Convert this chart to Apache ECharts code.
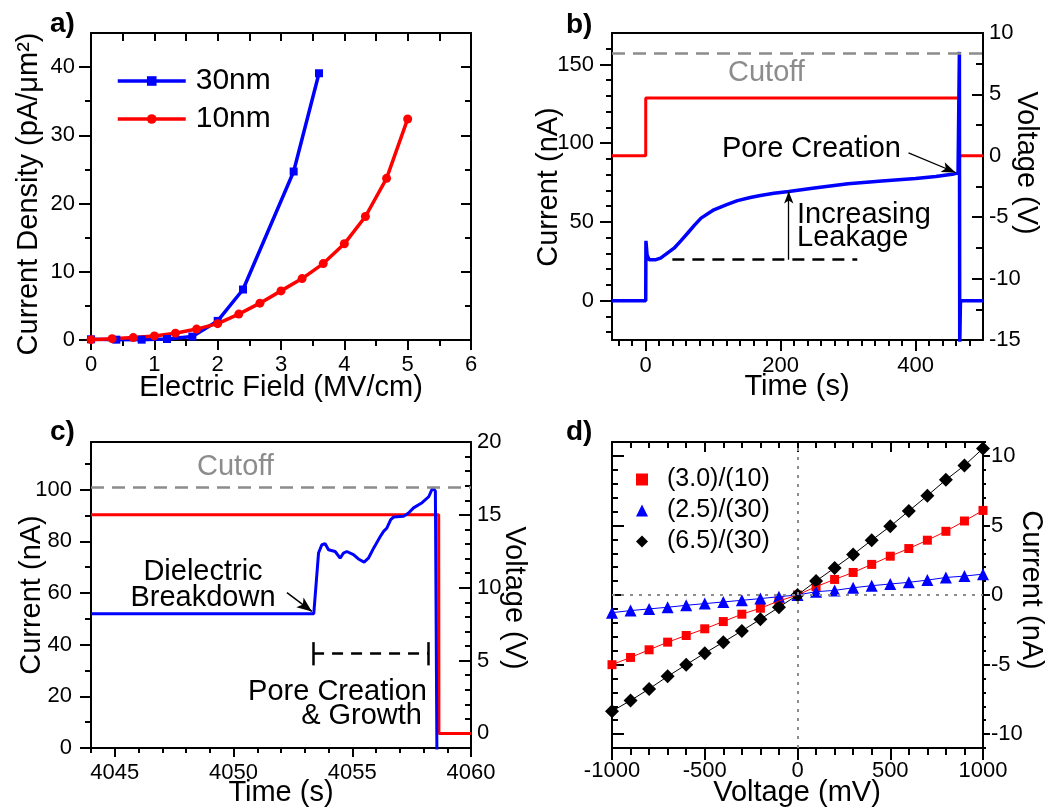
<!DOCTYPE html>
<html><head><meta charset="utf-8">
<script src="https://cdn.jsdelivr.net/npm/echarts@6/dist/echarts.min.js"></script>
<style>html,body{margin:0;padding:0;background:#fff}#c{width:1056px;height:809px}</style>
</head><body><div id="c"></div><script>
// ---------- Panel a: current density vs field ----------
const aField30 = [0, 0.4, 0.8, 1.2, 1.6, 2.0, 2.4, 3.2, 3.6];
const aDens30  = [0.1, 0.05, 0.05, 0.15, 0.5, 2.8, 7.4, 24.7, 39.1];
const aField10 = [0, 0.333, 0.667, 1.0, 1.333, 1.667, 2.0, 2.333, 2.667, 3.0, 3.333, 3.667, 4.0, 4.333, 4.667, 5.0];
const aDens10  = [0.05, 0.2, 0.35, 0.6, 1.0, 1.6, 2.4, 3.8, 5.4, 7.2, 9.0, 11.2, 14.1, 18.1, 23.7, 32.4];
const aXTicks = [0, 1, 2, 3, 4, 5, 6];
const aYTicks = [0, 10, 20, 30, 40];

// ---------- Panel b: current / voltage vs time ----------
const bTime    = [-50, 0, 0.3, 2, 5, 15, 22, 30, 42, 52, 62, 72, 82, 101, 120, 136, 155, 170, 190, 212, 250, 300, 350, 400, 430, 457, 463, 465, 465.5, 466.5, 467, 500];
const bCurrent = [0, 0, 38, 29, 26, 26, 27, 29.5, 33.3, 38, 42.8, 47.8, 52.4, 57.7, 61, 63.5, 65.5, 66.8, 68.2, 69.3, 71.5, 74.3, 76, 77.6, 78.8, 80.5, 81, 158, -30, -2, 0, 0];
const bVoltTime = [-50, 0, 0.01, 464.7, 464.71, 500];
const bVoltage  = [0, 0, 4.7, 4.7, 0, 0];
const bCutoff = 157;
const bXTicks = [0, 200, 400];
const bYTicks = [0, 50, 100, 150];
const bVTicks = [-15, -10, -5, 0, 5, 10];

// ---------- Panel c: breakdown trace ----------
const cTime    = [4044, 4053.38, 4053.58, 4053.72, 4053.86, 4054.0, 4054.28, 4054.49, 4054.63, 4054.77, 4055.05, 4055.26, 4055.5, 4055.68, 4055.9, 4056.18, 4056.32, 4056.46, 4056.62, 4056.75, 4057.16, 4057.37, 4057.58, 4057.94, 4058.22, 4058.39, 4058.5, 4058.57, 4058.6, 4060];
const cCurrent = [52, 52, 75.5, 78.7, 79.1, 76.8, 76.1, 73.5, 75.5, 76.1, 74.9, 73.2, 72.0, 73.5, 77.4, 81.9, 83.9, 85.2, 88.4, 89.5, 89.7, 91.0, 93.0, 95.0, 97.3, 100.8, 99.5, -10, -10, -10];
const cVoltTime = [4044, 4058.64, 4058.65, 4060];
const cVoltage  = [15, 15, 0, 0];
const cCutoff = 101;
const cXTicks = [4045, 4050, 4055, 4060];
const cYTicks = [0, 20, 40, 60, 80, 100];
const cVTicks = [0, 5, 10, 15, 20];

// ---------- Panel d: I-V curves ----------
const dVolt  = [-1000, -900, -800, -700, -600, -500, -400, -300, -200, -100, 0, 100, 200, 300, 400, 500, 600, 700, 800, 900, 1000];
const dRed   = [-5.01, -4.49, -3.94, -3.39, -2.91, -2.43, -1.91, -1.38, -0.95, -0.43, 0, 0.6, 1.12, 1.62, 2.2, 2.79, 3.34, 3.94, 4.58, 5.32, 6.08];
const dBlue  = [-1.27, -1.12, -1.0, -0.88, -0.74, -0.62, -0.5, -0.38, -0.26, -0.12, 0, 0.24, 0.33, 0.52, 0.67, 0.79, 0.91, 1.07, 1.26, 1.36, 1.5];
const dBlack = [-8.35, -7.59, -6.75, -5.85, -5.01, -4.18, -3.39, -2.58, -1.74, -0.88, 0, 1.0, 1.95, 2.91, 3.94, 4.94, 6.04, 7.14, 8.28, 9.31, 10.54];
const dNames = ['(3.0)/(10)', '(2.5)/(30)', '(6.5)/(30)'];
const dXTicks = [-1000, -500, 0, 500, 1000];
const dYTicks = [-10, -5, 0, 5, 10];

// ---------- helpers ----------
const FONT = '"Liberation Sans", Arial, Helvetica, sans-serif';
function zip(xs, ys) { return xs.map((x, i) => [x, ys[i]]); }
function steps(a, b, s, exclude) {
  const out = [];
  for (let v = a; v <= b + 1e-9; v += s) {
    const r = Math.round(v * 1000) / 1000;
    if (!exclude || !exclude.some(e => Math.abs(e - r) < 1e-6)) out.push(r);
  }
  return out;
}
const xAxes = [], yAxes = [];
function addAxis(list, o) {
  list.push({
    type: 'value', gridIndex: o.grid, min: o.min, max: o.max, position: o.pos,
    axisLine: { show: o.line !== false, onZero: false, lineStyle: { color: '#000', width: 2 } },
    axisTick: o.ticks ? { show: true, inside: !!o.inside, length: o.len, customValues: o.ticks,
      lineStyle: { color: '#000', width: 2 } } : { show: false },
    axisLabel: o.labels ? { show: true, customValues: o.labels, fontSize: 22, fontFamily: FONT,
      color: '#000', margin: o.margin, formatter: v => String(v) } : { show: false },
    splitLine: { show: false }, minorTick: { show: false }, minorSplitLine: { show: false },
    silent: true
  });
  return list.length - 1;
}

const grids = [
  { left: 91, top: 33, width: 380, height: 307 },
  { left: 612, top: 33, width: 371, height: 307 },
  { left: 91, top: 442, width: 380, height: 306 },
  { left: 612, top: 442, width: 371, height: 306 }
].map(g => Object.assign(g, { containLabel: false, outerBoundsMode: 'none' }));

// panel a axes
const axA = addAxis(xAxes, { grid: 0, min: 0, max: 6, pos: 'bottom', ticks: aXTicks, labels: aXTicks, len: 10, margin: 14 });
addAxis(xAxes, { grid: 0, min: 0, max: 6, pos: 'bottom', line: false, ticks: steps(0.5, 5.5, 1), len: 6 });
addAxis(xAxes, { grid: 0, min: 0, max: 6, pos: 'top', ticks: steps(0.5, 5.5, 0.5), len: 8, inside: true });
const ayA = addAxis(yAxes, { grid: 0, min: 0, max: 45, pos: 'left', ticks: aYTicks, labels: aYTicks, len: 12, margin: 16 });
addAxis(yAxes, { grid: 0, min: 0, max: 45, pos: 'left', line: false, ticks: steps(5, 35, 10), len: 6 });
addAxis(yAxes, { grid: 0, min: 0, max: 45, pos: 'right', ticks: aYTicks, len: 10, inside: true });
addAxis(yAxes, { grid: 0, min: 0, max: 45, pos: 'right', line: false, ticks: steps(5, 35, 10), len: 6, inside: true });

// panel b axes
const axB = addAxis(xAxes, { grid: 1, min: -50, max: 500, pos: 'bottom', ticks: bXTicks, labels: bXTicks, len: 11, margin: 15 });
addAxis(xAxes, { grid: 1, min: -50, max: 500, pos: 'bottom', line: false, ticks: steps(-40, 480, 20, bXTicks), len: 6 });
addAxis(xAxes, { grid: 1, min: -50, max: 500, pos: 'top' });
const ayB = addAxis(yAxes, { grid: 1, min: -25, max: 170, pos: 'left', ticks: bYTicks, labels: bYTicks, len: 12, margin: 18 });
addAxis(yAxes, { grid: 1, min: -25, max: 170, pos: 'left', line: false, ticks: steps(-20, 160, 10, bYTicks), len: 6 });
const ayBv = addAxis(yAxes, { grid: 1, min: -15, max: 10, pos: 'right', ticks: bVTicks, labels: bVTicks, len: 11, inside: true, margin: 6 });
addAxis(yAxes, { grid: 1, min: -15, max: 10, pos: 'right', line: false, ticks: steps(-12.5, 7.5, 5), len: 7, inside: true });

// panel c axes
const axC = addAxis(xAxes, { grid: 2, min: 4044, max: 4060, pos: 'bottom', ticks: cXTicks, labels: cXTicks, len: 9, margin: 14 });
addAxis(xAxes, { grid: 2, min: 4044, max: 4060, pos: 'bottom', line: false, ticks: steps(4044, 4059, 1, cXTicks), len: 5 });
addAxis(xAxes, { grid: 2, min: 4044, max: 4060, pos: 'top' });
const ayC = addAxis(yAxes, { grid: 2, min: 0, max: 118.5, pos: 'left', ticks: cYTicks, labels: cYTicks, len: 11, margin: 19 });
addAxis(yAxes, { grid: 2, min: 0, max: 118.5, pos: 'left', line: false, ticks: steps(10, 110, 20), len: 6 });
const ayCv = addAxis(yAxes, { grid: 2, min: -1, max: 20, pos: 'right', ticks: cVTicks, labels: cVTicks, len: 12, inside: true, margin: 6 });
addAxis(yAxes, { grid: 2, min: -1, max: 20, pos: 'right', line: false, ticks: steps(1, 19, 1, cVTicks), len: 6, inside: true });

// panel d axes
const axD = addAxis(xAxes, { grid: 3, min: -1000, max: 1000, pos: 'bottom', ticks: dXTicks, labels: dXTicks, len: 12, margin: 12 });
addAxis(xAxes, { grid: 3, min: -1000, max: 1000, pos: 'bottom', line: false, ticks: steps(-900, 900, 100, dXTicks), len: 7 });
addAxis(xAxes, { grid: 3, min: -1000, max: 1000, pos: 'top', ticks: dXTicks, len: 10, inside: true });
addAxis(xAxes, { grid: 3, min: -1000, max: 1000, pos: 'top', line: false, ticks: steps(-900, 900, 100, dXTicks), len: 6, inside: true });
const ayD = addAxis(yAxes, { grid: 3, min: -11, max: 11, pos: 'right', ticks: dYTicks, labels: dYTicks, len: 7, margin: 8 });
addAxis(yAxes, { grid: 3, min: -11, max: 11, pos: 'right', line: false, ticks: steps(-11, 11, 1, dYTicks), len: 3 });
addAxis(yAxes, { grid: 3, min: -11, max: 11, pos: 'left', ticks: dYTicks, len: 12, inside: true });
addAxis(yAxes, { grid: 3, min: -11, max: 11, pos: 'left', line: false, ticks: steps(-11, 11, 1, dYTicks), len: 6, inside: true });

// ---------- annotation helpers ----------
function seg(p1, p2, style, endSym, endSize) {
  return [
    { coord: p1, symbol: 'none', lineStyle: style },
    { coord: p2, symbol: endSym || 'none', symbolSize: endSize || 10 }
  ];
}
const black = (w, t) => ({ color: '#000', width: w, type: t || 'solid', opacity: 1 });
const gray = { color: '#8c8c8c', width: 2.5, type: [13, 8], opacity: 1 };

const series = [
  // a
  { type: 'line', name: '30nm', xAxisIndex: axA, yAxisIndex: ayA, data: zip(aField30, aDens30),
    symbol: 'rect', symbolSize: 8, color: '#0000ff', lineStyle: { width: 3.5, color: '#0000ff' }, itemStyle: { color: '#0000ff' } },
  { type: 'line', name: '10nm', xAxisIndex: axA, yAxisIndex: ayA, data: zip(aField10, aDens10),
    symbol: 'circle', symbolSize: 9, color: '#ff0000', lineStyle: { width: 3.5, color: '#ff0000' }, itemStyle: { color: '#ff0000' } },
  // b
  { type: 'line', name: 'bV', xAxisIndex: axB, yAxisIndex: ayBv, data: zip(bVoltTime, bVoltage),
    showSymbol: false, symbol: 'none', lineStyle: { width: 3, color: '#ff0000' } },
  { type: 'line', name: 'bI', xAxisIndex: axB, yAxisIndex: ayB, data: zip(bTime, bCurrent),
    showSymbol: false, symbol: 'none', lineStyle: { width: 3.5, color: '#0000ff' },
    markLine: { silent: true, animation: false, label: { show: false }, symbol: ['none', 'none'],
      data: [
        seg([-50, bCutoff], [500, bCutoff], gray),
        seg([39.5, 26], [313.6, 26], black(2.5, [12, 8])),
        seg([212, 26], [212, 69.3], black(1.3), 'arrow', [7, 12]),
        seg([389.6, 93.9], [459.3, 81.4], black(1.3), 'arrow', [8, 14])
      ] } },
  // c
  { type: 'line', name: 'cV', xAxisIndex: axC, yAxisIndex: ayCv, data: zip(cVoltTime, cVoltage),
    showSymbol: false, symbol: 'none', lineStyle: { width: 3, color: '#ff0000' } },
  { type: 'line', name: 'cI', xAxisIndex: axC, yAxisIndex: ayC, data: zip(cTime, cCurrent),
    showSymbol: false, symbol: 'none', lineStyle: { width: 3, color: '#0000ff' },
    markLine: { silent: true, animation: false, label: { show: false }, symbol: ['none', 'none'],
      data: [
        seg([4044, cCutoff], [4060, cCutoff], gray),
        seg([4053.35, 36.5], [4058.2, 36.5], black(2.5, [11, 8])),
        seg([4053.35, 41], [4053.35, 32], black(2.5)),
        seg([4058.2, 41], [4058.2, 32], black(2.5)),
        seg([4052.25, 60.2], [4053.3, 52.9], black(1.5), 'arrow', [9, 15])
      ] } },
  // d lines
  { type: 'line', xAxisIndex: axD, yAxisIndex: ayD, data: zip(dVolt, dRed), symbol: 'none', silent: true,
    lineStyle: { width: 1, color: '#ff0000' },
    markLine: { silent: true, animation: false, label: { show: false }, symbol: ['none', 'none'],
      lineStyle: { color: '#8c8c8c', width: 2, type: [3, 6] },
      data: [[{ coord: [0, -11] }, { coord: [0, 11] }], [{ coord: [-1000, 0] }, { coord: [1000, 0] }]] } },
  { type: 'line', xAxisIndex: axD, yAxisIndex: ayD, data: zip(dVolt, dBlue), symbol: 'none', silent: true,
    lineStyle: { width: 1, color: '#0000ff' } },
  { type: 'line', xAxisIndex: axD, yAxisIndex: ayD, data: zip(dVolt, dBlack), symbol: 'none', silent: true,
    lineStyle: { width: 1, color: '#000' } },
  // d markers
  { type: 'scatter', name: dNames[0], xAxisIndex: axD, yAxisIndex: ayD, data: zip(dVolt, dRed),
    symbol: 'rect', symbolSize: 9, itemStyle: { color: '#ff0000', opacity: 1 } },
  { type: 'scatter', name: dNames[1], xAxisIndex: axD, yAxisIndex: ayD, data: zip(dVolt, dBlue),
    symbol: 'triangle', symbolSize: 12, itemStyle: { color: '#0000ff', opacity: 1 } },
  { type: 'scatter', name: dNames[2], xAxisIndex: axD, yAxisIndex: ayD, data: zip(dVolt, dBlack),
    symbol: 'diamond', symbolSize: 14, itemStyle: { color: '#000', opacity: 1 } }
];

function txt(x, y, s, o) {
  o = o || {};
  return { type: 'text', x: x, y: y, rotation: o.rot || 0, silent: true, z: 100,
    style: { text: s, fontSize: o.size || 29, fontFamily: FONT, fontWeight: o.bold ? 'bold' : 'normal',
      fill: o.color || '#000', align: o.align || 'left', verticalAlign: 'middle',
      textAlign: o.align || 'left', textVerticalAlign: 'middle' } };
}
const R = Math.PI / 2;
const graphic = [
  txt(50, 24, 'a)', { bold: true, size: 28 }),
  txt(566, 25, 'b)', { bold: true, size: 28 }),
  txt(50, 432, 'c)', { bold: true, size: 28 }),
  txt(566, 432, 'd)', { bold: true, size: 28 }),
  // axis titles
  txt(281, 388, 'Electric Field (MV/cm)', { align: 'center' }),
  txt(29, 194, 'Current Density (pA/\u03bcm\u00b2)', { align: 'center', rot: R }),
  txt(797, 387, 'Time (s)', { align: 'center' }),
  txt(549, 187, 'Current (nA)', { align: 'center', rot: R }),
  txt(1026, 163, 'Voltage (V)', { align: 'center', rot: -R }),
  txt(281, 793, 'Time (s)', { align: 'center' }),
  txt(32, 595, 'Current (nA)', { align: 'center', rot: R }),
  txt(514, 598, 'Voltage (V)', { align: 'center', rot: -R }),
  txt(797, 793, 'Voltage (mV)', { align: 'center' }),
  txt(1031, 590, 'Current (nA)', { align: 'center', rot: -R }),
  // annotations
  txt(728, 73, 'Cutoff', { color: '#8c8c8c' }),
  txt(722, 149, 'Pore Creation'),
  txt(797, 215, 'Increasing'),
  txt(797, 238, 'Leakage'),
  txt(197, 467, 'Cutoff', { color: '#8c8c8c' }),
  txt(203, 572, 'Dielectric', { align: 'center' }),
  txt(203, 598, 'Breakdown', { align: 'center' }),
  txt(427, 692, 'Pore Creation', { align: 'right' }),
  txt(422, 716, '& Growth', { align: 'right' })
];

const chart = echarts.init(document.getElementById('c'), null, { renderer: 'canvas' });
chart.setOption({
  animation: false,
  backgroundColor: '#fff',
  textStyle: { fontFamily: FONT },
  grid: grids,
  xAxis: xAxes,
  yAxis: yAxes,
  legend: [
    { data: ['30nm', '10nm'], orient: 'vertical', left: 116, top: 66, padding: 0, itemWidth: 68, itemHeight: 12, itemGap: 8,
      lineStyle: { width: 3.5 },
      selectedMode: false, textStyle: { fontSize: 30, lineHeight: 30, fontFamily: FONT, color: '#000', padding: [0, 0, 0, 5] } },
    { data: dNames, orient: 'vertical', left: 636, top: 467, padding: 0, itemWidth: 12, itemHeight: 12, itemGap: 6,
      selectedMode: false, textStyle: { fontSize: 25, lineHeight: 25, fontFamily: FONT, color: '#000', padding: [0, 0, 0, 14] } }
  ],
  series: series,
  graphic: graphic
});
</script></body></html>
